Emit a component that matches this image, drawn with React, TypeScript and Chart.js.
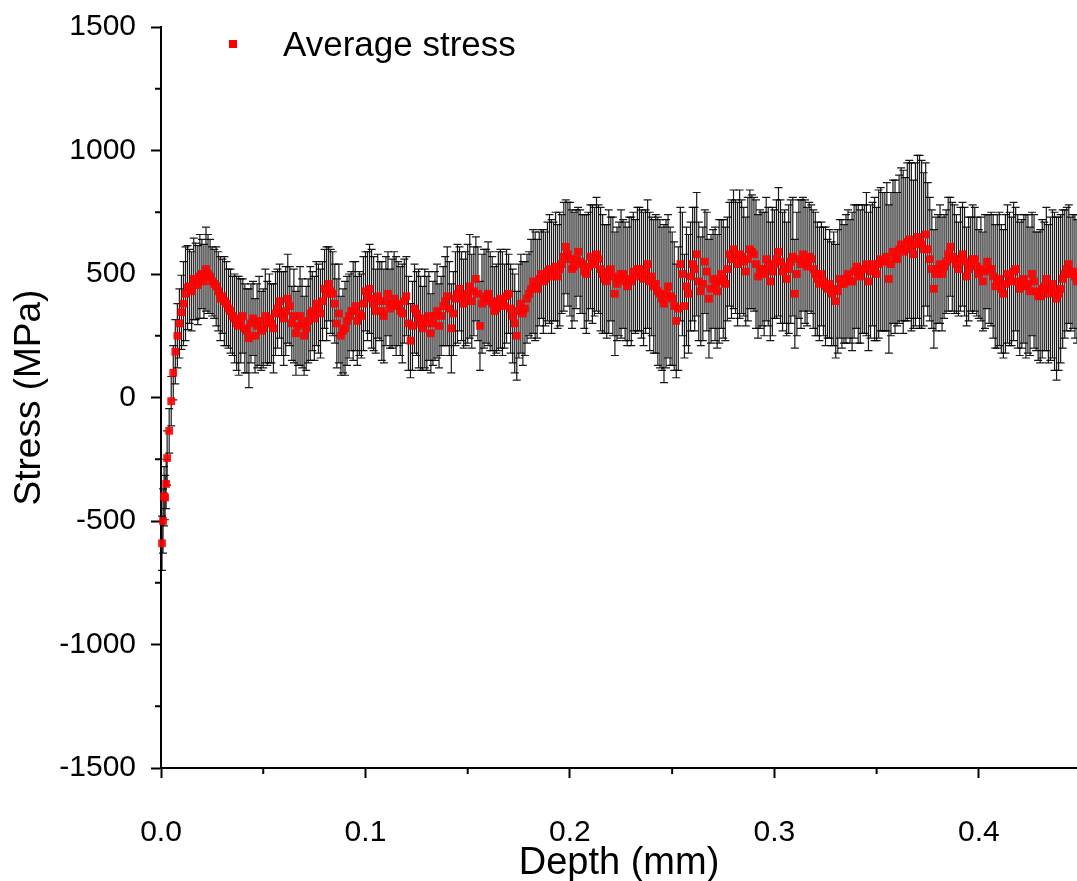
import React, { useEffect, useRef } from 'react';
import { Chart, registerables } from 'chart.js';

Chart.register(...registerables);

// Depth in micrometres (converted to mm when building the dataset)
const depthUm: number[] = [
  0.5, 1, 1.5, 2, 2.5, 3, 4, 5, 6, 7, 8, 9, 10, 11, 12, 13,
  14, 15, 16, 17, 18, 19, 20, 21, 22, 23, 24, 25, 26, 27, 28, 29, 30, 31, 32, 33,
  34, 35, 36, 37, 38, 39, 40, 41, 42, 43, 44, 45, 46, 47, 48, 49, 50, 51, 52, 53,
  54, 55, 56, 57, 58, 59, 60, 61, 62, 63, 64, 65, 66, 67, 68, 69, 70, 71, 72, 73,
  74, 75, 76, 77, 78, 79, 80, 81, 82, 83, 84, 85, 86, 87, 88, 89, 90, 91, 92, 93,
  94, 95, 96, 97, 98, 99, 100, 101, 102, 103, 104, 105, 106, 107, 108, 109, 110, 111, 112, 113,
  114, 115, 116, 117, 118, 119, 120, 121, 122, 123, 124, 125, 126, 127, 128, 129, 130, 131, 132, 133,
  134, 135, 136, 137, 138, 139, 140, 141, 142, 143, 144, 145, 146, 147, 148, 149, 150, 151, 152, 153,
  154, 155, 156, 157, 158, 159, 160, 161, 162, 163, 164, 165, 166, 167, 168, 169, 170, 171, 172, 173,
  174, 175, 176, 177, 178, 179, 180, 181, 182, 183, 184, 185, 186, 187, 188, 189, 190, 191, 192, 193,
  194, 195, 196, 197, 198, 199, 200, 201, 202, 203, 204, 205, 206, 207, 208, 209, 210, 211, 212, 213,
  214, 215, 216, 217, 218, 219, 220, 221, 222, 223, 224, 225, 226, 227, 228, 229, 230, 231, 232, 233,
  234, 235, 236, 237, 238, 239, 240, 241, 242, 243, 244, 245, 246, 247, 248, 249, 250, 251, 252, 253,
  254, 255, 256, 257, 258, 259, 260, 261, 262, 263, 264, 265, 266, 267, 268, 269, 270, 271, 272, 273,
  274, 275, 276, 277, 278, 279, 280, 281, 282, 283, 284, 285, 286, 287, 288, 289, 290, 291, 292, 293,
  294, 295, 296, 297, 298, 299, 300, 301, 302, 303, 304, 305, 306, 307, 308, 309, 310, 311, 312, 313,
  314, 315, 316, 317, 318, 319, 320, 321, 322, 323, 324, 325, 326, 327, 328, 329, 330, 331, 332, 333,
  334, 335, 336, 337, 338, 339, 340, 341, 342, 343, 344, 345, 346, 347, 348, 349, 350, 351, 352, 353,
  354, 355, 356, 357, 358, 359, 360, 361, 362, 363, 364, 365, 366, 367, 368, 369, 370, 371, 372, 373,
  374, 375, 376, 377, 378, 379, 380, 381, 382, 383, 384, 385, 386, 387, 388, 389, 390, 391, 392, 393,
  394, 395, 396, 397, 398, 399, 400, 401, 402, 403, 404, 405, 406, 407, 408, 409, 410, 411, 412, 413,
  414, 415, 416, 417, 418, 419, 420, 421, 422, 423, 424, 425, 426, 427, 428, 429, 430, 431, 432, 433,
  434, 435, 436, 437, 438, 439, 440, 441, 442, 443, 444, 445, 446, 447, 448,
];

// Average stress (MPa)
const avgStress: number[] = [
  -590, -500, -400, -405, -350, -245, -135, -15, 100, 185, 250, 300, 345, 380, 420, 445,
  450, 430, 480, 470, 455, 490, 500, 470, 520, 500, 490, 470, 460, 450, 430, 400, 410, 390, 380, 360,
  350, 330, 320, 300, 290, 310, 330, 280, 270, 240, 300, 320, 250, 290, 310, 270, 280, 330, 300, 320,
  300, 280, 340, 360, 390, 340, 320, 350, 400, 370, 300, 330, 260, 290, 330, 300, 250, 280, 310, 340,
  350, 320, 380, 360, 340, 390, 440, 420, 460, 430, 420, 380, 300, 340, 250, 270, 280, 310, 330, 350,
  350, 370, 310, 340, 330, 380, 430, 410, 440, 400, 380, 350, 410, 390, 350, 330, 390, 420, 360, 380,
  400, 370, 380, 350, 340, 390, 410, 300, 230, 290, 360, 340, 320, 300, 280, 320, 300, 330, 260, 300,
  330, 350, 290, 330, 370, 390, 410, 360, 280, 340, 400, 420, 440, 410, 380, 400, 420, 450, 390, 430,
  480, 420, 290, 380, 400, 410, 420, 390, 380, 350, 360, 390, 400, 380, 370, 410, 420, 360, 330, 300,
  250, 350, 380, 340, 360, 400, 420, 440, 470, 450, 440, 480, 500, 470, 480, 510, 520, 490, 510, 530,
  490, 520, 540, 570, 610, 580, 560, 520, 530, 560, 590, 550, 540, 510, 500, 530, 570, 540, 550, 580,
  560, 520, 500, 480, 470, 510, 520, 490, 420, 460, 480, 500, 500, 470, 450, 480, 470, 510, 490, 520,
  520, 500, 480, 510, 540, 470, 490, 450, 460, 430, 420, 400, 380, 420, 450, 410, 400, 370, 310, 360,
  540, 500, 370, 450, 420, 490, 540, 520, 580, 470, 430, 460, 550, 510, 400, 440, 480, 460, 430, 470,
  500, 480, 460, 520, 580, 560, 600, 570, 540, 580, 570, 550, 510, 560, 600, 590, 580, 540, 490, 520,
  520, 500, 560, 530, 470, 510, 540, 560, 590, 550, 510, 530, 480, 520, 550, 570, 420, 500, 560, 540,
  580, 550, 530, 570, 560, 520, 500, 480, 460, 500, 470, 450, 440, 460, 420, 440, 390, 430, 480, 460,
  460, 480, 500, 470, 470, 510, 530, 500, 490, 520, 520, 540, 470, 510, 540, 520, 500, 540, 560, 550,
  550, 570, 480, 540, 590, 570, 560, 600, 620, 590, 600, 630, 640, 610, 580, 620, 650, 630, 620, 600,
  660, 600, 560, 520, 440, 500, 520, 540, 500, 530, 550, 580, 610, 570, 560, 540, 520, 560, 580, 550,
  490, 520, 540, 560, 560, 530, 500, 520, 470, 510, 550, 520, 520, 490, 450, 470, 480, 440, 420, 460,
  500, 480, 470, 510, 520, 470, 440, 460, 480, 450, 460, 430, 500, 470, 430, 410, 410, 440, 450, 480,
  420, 440, 460, 430, 400, 420, 440, 480, 500, 520, 540, 500, 510, 490, 470,
];

// Error (half-width of error bar, MPa)
const stressErr: number[] = [
  110, 130, 120, 90, 100, 110, 90, 100, 110, 130, 130, 140, 150, 170, 190, 170,
  150, 160, 165, 155, 160, 170, 140, 150, 170, 160, 150, 140, 140, 160, 160, 170, 150, 180, 170, 160,
  170, 160, 180, 190, 200, 170, 150, 180, 170, 200, 160, 150, 150, 170, 180, 160, 160, 190, 170, 180,
  160, 180, 170, 160, 150, 170, 190, 180, 180, 160, 150, 190, 170, 160, 200, 180, 160, 170, 170, 190,
  160, 170, 170, 180, 180, 160, 160, 190, 150, 170, 170, 160, 180, 200, 160, 170, 190, 180, 170, 160,
  200, 180, 180, 170, 170, 190, 160, 180, 180, 200, 190, 170, 170, 160, 200, 190, 180, 170, 160, 180,
  190, 200, 170, 180, 200, 170, 160, 190, 150, 180, 180, 170, 200, 190, 170, 200, 190, 180, 160, 170,
  180, 190, 170, 160, 160, 180, 200, 190, 180, 170, 190, 200, 170, 180, 180, 190, 200, 210, 190, 180,
  170, 190, 180, 200, 200, 190, 210, 200, 190, 180, 180, 200, 200, 210, 170, 190, 160, 180, 190, 200,
  180, 190, 200, 210, 190, 180, 170, 200, 210, 220, 200, 190, 180, 210, 190, 200, 220, 230, 200, 220,
  210, 230, 200, 220, 190, 210, 230, 240, 220, 200, 180, 210, 200, 230, 240, 220, 210, 240, 220, 230,
  220, 250, 240, 220, 230, 250, 210, 240, 250, 230, 230, 260, 220, 240, 240, 250, 260, 240, 230, 250,
  250, 260, 270, 250, 260, 280, 240, 270, 280, 300, 300, 290, 320, 300, 290, 280, 270, 260, 230, 250,
  230, 250, 210, 240, 240, 220, 230, 250, 250, 240, 220, 230, 210, 240, 240, 220, 200, 230, 230, 250,
  220, 240, 230, 210, 210, 240, 240, 230, 250, 260, 230, 220, 220, 250, 240, 230, 230, 260, 250, 240,
  230, 250, 250, 240, 240, 260, 220, 240, 260, 250, 240, 230, 230, 260, 250, 240, 220, 250, 240, 260,
  230, 250, 240, 220, 220, 240, 250, 230, 230, 210, 220, 240, 200, 220, 210, 230, 230, 250, 240, 260,
  240, 260, 260, 250, 280, 270, 250, 280, 270, 260, 260, 290, 280, 270, 250, 290, 270, 300, 290, 280,
  280, 300, 300, 290, 290, 310, 270, 300, 310, 330, 290, 320, 320, 340, 300, 330, 330, 350, 340, 310,
  290, 270, 250, 240, 240, 230, 220, 240, 230, 210, 210, 230, 200, 220, 220, 200, 190, 210, 210, 220,
  200, 210, 190, 220, 210, 200, 180, 210, 200, 230, 190, 220, 230, 250, 250, 270, 270, 260, 260, 280,
  280, 270, 260, 280, 250, 270, 270, 260, 260, 290, 280, 260, 250, 270, 240, 260, 270, 280, 260, 290,
  280, 290, 300, 320, 330, 310, 300, 280, 260, 250, 240, 230, 230, 250, 250,
];

const xMinorTicks: number[] = [0.05, 0.15, 0.25, 0.35];
const yMinorTicks: number[] = [-1250, -750, -250, 250, 750, 1250];

const FONT = "'Liberation Sans', Arial, Helvetica, sans-serif";

export default function App() {
  const canvasRef = useRef<HTMLCanvasElement | null>(null);

  useEffect(() => {
    document.body.style.margin = '0';
    const canvas = canvasRef.current;
    if (!canvas) return;

    const n = Math.min(depthUm.length, avgStress.length, stressErr.length);
    const depthMm = depthUm.slice(0, n).map((d) => d / 1000);
    const points = depthMm.map((d, i) => ({ x: d, y: avgStress[i] }));

    const errorBarPlugin = {
      id: 'errorBars',
      beforeDatasetsDraw(chart: any) {
        const { ctx, scales } = chart;
        const xs = scales.x;
        const ys = scales.y;
        ctx.save();
        ctx.strokeStyle = 'rgba(0,0,0,0.9)';
        ctx.lineWidth = 1.2;
        for (let i = 0; i < n; i++) {
          const px = xs.getPixelForValue(depthMm[i]);
          const top = ys.getPixelForValue(avgStress[i] + stressErr[i]);
          const bot = ys.getPixelForValue(avgStress[i] - stressErr[i]);
          ctx.beginPath();
          ctx.moveTo(px, top);
          ctx.lineTo(px, bot);
          ctx.moveTo(px - 4, top);
          ctx.lineTo(px + 4, top);
          ctx.moveTo(px - 4, bot);
          ctx.lineTo(px + 4, bot);
          ctx.stroke();
        }
        ctx.restore();
      },
    };

    const minorTickPlugin = {
      id: 'minorTicks',
      afterDraw(chart: any) {
        const { ctx, scales, chartArea } = chart;
        ctx.save();
        ctx.strokeStyle = '#000';
        ctx.lineWidth = 2;
        ctx.beginPath();
        xMinorTicks.forEach((v) => {
          const px = scales.x.getPixelForValue(v);
          ctx.moveTo(px, chartArea.bottom);
          ctx.lineTo(px, chartArea.bottom + 6);
        });
        yMinorTicks.forEach((v) => {
          const py = scales.y.getPixelForValue(v);
          ctx.moveTo(chartArea.left, py);
          ctx.lineTo(chartArea.left - 6, py);
        });
        ctx.stroke();
        ctx.restore();
      },
    };

    const chart = new Chart(canvas, {
      type: 'scatter',
      data: {
        datasets: [
          {
            label: 'Average stress',
            data: points,
            pointStyle: 'rect',
            pointRadius: 5.5,
            pointBorderWidth: 0,
            pointBackgroundColor: 'rgba(255,0,0,0.9)',
            pointBorderColor: 'rgba(255,0,0,0)',
            showLine: false,
            clip: false,
          },
        ],
      },
      options: {
        responsive: false,
        animation: false,
        layout: { autoPadding: false, padding: { top: 27, right: 0, left: 0, bottom: 0 } },
        plugins: {
          legend: { display: false },
          tooltip: { enabled: false },
        },
        scales: {
          x: {
            type: 'linear',
            min: 0,
            max: 0.448,
            afterFit: (s: any) => {
              s.height = 113;
              s.paddingLeft = 0;
              s.paddingRight = 0;
            },
            ticks: {
              stepSize: 0.1,
              includeBounds: false,
              autoSkip: false,
              maxRotation: 0,
              padding: 37,
              color: '#000',
              font: { family: FONT, size: 30 },
              callback: (v: any) => Number(v).toFixed(1),
            },
            grid: {
              drawOnChartArea: false,
              drawTicks: true,
              tickLength: 10,
              tickWidth: 2,
              tickColor: '#000',
            },
            border: { display: true, color: '#000', width: 2 },
            title: {
              display: true,
              text: 'Depth (mm)',
              color: '#000',
              font: { family: FONT, size: 38 },
              padding: { top: 0, bottom: -5 },
            },
          },
          y: {
            type: 'linear',
            min: -1500,
            max: 1500,
            afterFit: (s: any) => {
              s.width = 161;
              s.paddingTop = 0;
              s.paddingBottom = 0;
            },
            ticks: {
              stepSize: 500,
              padding: 15,
              color: '#000',
              font: { family: FONT, size: 30 },
              callback: (v: any) => String(v),
            },
            grid: {
              drawOnChartArea: false,
              drawTicks: true,
              tickLength: 10,
              tickWidth: 2,
              tickColor: '#000',
            },
            border: { display: true, color: '#000', width: 2 },
            title: {
              display: true,
              text: 'Stress (MPa)',
              color: '#000',
              font: { family: FONT, size: 37 },
              padding: { top: 8, bottom: 0 },
            },
          },
        },
      },
      plugins: [errorBarPlugin, minorTickPlugin],
    });

    return () => {
      chart.destroy();
    };
  }, []);

  return (
    <div style={{ position: 'relative', width: 1077, height: 881, overflow: 'hidden', background: '#fff' }}>
      <canvas ref={canvasRef} width={1077} height={881} style={{ display: 'block' }} />
      <div
        style={{
          position: 'absolute',
          left: 229,
          top: 40,
          width: 8,
          height: 8,
          background: '#ff0000',
        }}
      />
      <span
        style={{
          position: 'absolute',
          left: 283,
          top: 25.5,
          fontFamily: FONT,
          fontSize: 35,
          lineHeight: 1,
          color: '#000',
          whiteSpace: 'nowrap',
        }}
      >
        Average stress
      </span>
    </div>
  );
}
